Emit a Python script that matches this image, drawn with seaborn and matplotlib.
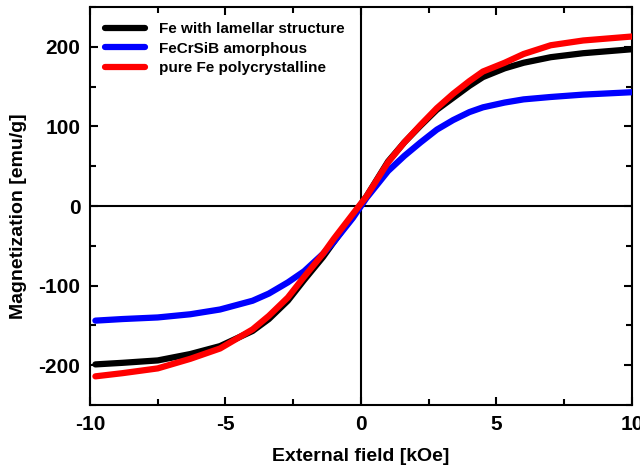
import numpy as np
import pandas as pd
import matplotlib
matplotlib.use("Agg")
import matplotlib.pyplot as plt
import seaborn as sns
from matplotlib.ticker import MultipleLocator

# data
field = [-9.8, -8.8, -7.5, -6.3, -5.2, -4.0, -3.4, -2.7, -2.1, -1.4, -1.0, -0.3,
         0.2, 1.0, 1.6, 2.2, 2.8, 3.4, 4.0, 4.5, 5.3, 6.0, 7.0, 8.2, 10.0]
m_lamellar = [-199, -197, -194, -186, -176, -157, -142, -119, -93, -64, -45, -12,
              12, 56, 80, 101, 121, 136, 151, 162, 173, 180, 187, 192, 197]
m_amorph = [-144, -142, -140, -136, -130, -119, -110, -96, -82, -60, -45, -15,
            10, 44, 63, 80, 96, 108, 118, 124, 130, 134, 137, 140, 143]
m_poly = [-214, -210, -204, -192, -179, -155, -138, -115, -89, -60, -41, -10,
          12, 55, 80, 102, 123, 141, 157, 169, 180, 191, 202, 208, 213]
names = ["Fe with lamellar structure", "FeCrSiB amorphous", "pure Fe polycrystalline"]
colors = ["black", "blue", "red"]

df = pd.concat([
    pd.DataFrame({"field": field, "M": m, "sample": n})
    for m, n in zip([m_lamellar, m_amorph, m_poly], names)
])

sns.set_style("ticks")
plt.rcParams['font.family'] = ['Liberation Sans', 'DejaVu Sans']
plt.rcParams['font.weight'] = 'bold'
plt.rcParams['axes.unicode_minus'] = False
plt.rcParams['text.color'] = 'black'
plt.rcParams['axes.labelcolor'] = 'black'
plt.rcParams['xtick.color'] = 'black'
plt.rcParams['ytick.color'] = 'black'

fig = plt.figure(figsize=(6.4, 4.7), dpi=100)
ax = fig.add_axes([0.1406, 0.1383, 0.8469, 0.8467])

ax.axhline(0, color="black", lw=1.5, zorder=1)
ax.axvline(0, color="black", lw=1.5, zorder=1)

sns.lineplot(data=df, x="field", y="M", hue="sample", palette=colors,
             sort=False, lw=4.5, ax=ax, zorder=3)

ax.set_xlim(-10, 10)
ax.set_ylim(-250, 250)
ax.xaxis.set_major_locator(MultipleLocator(5))
ax.xaxis.set_minor_locator(MultipleLocator(2.5))
ax.yaxis.set_major_locator(MultipleLocator(100))
ax.yaxis.set_minor_locator(MultipleLocator(50))
ax.tick_params(which="both", direction="in", top=True, right=True, width=1.5, color="black")
ax.tick_params(which="major", length=6, labelsize=15, pad=7)
ax.tick_params(which="minor", length=4)
for t in ax.get_xticklabels() + ax.get_yticklabels():
    t.set_fontweight("bold")
for s in ax.spines.values():
    s.set_linewidth(1.5)
    s.set_color("black")

ax.set_xlabel("External field [kOe]", fontsize=14, fontweight="bold", labelpad=10)
ax.set_ylabel("Magnetization [emu/g]", fontsize=14, fontweight="bold")
ax.yaxis.set_label_coords(-0.116, 0.475)

leg = ax.legend(loc="upper left", frameon=False, fontsize=11, handlelength=2.6,
                borderaxespad=0.5, labelspacing=0.35, handletextpad=0.9,
                borderpad=0.5)
for line in leg.get_lines():
    line.set_linewidth(4.5)
for t in leg.get_texts():
    t.set_fontweight("bold")

fig.savefig("out.png", dpi=100)
